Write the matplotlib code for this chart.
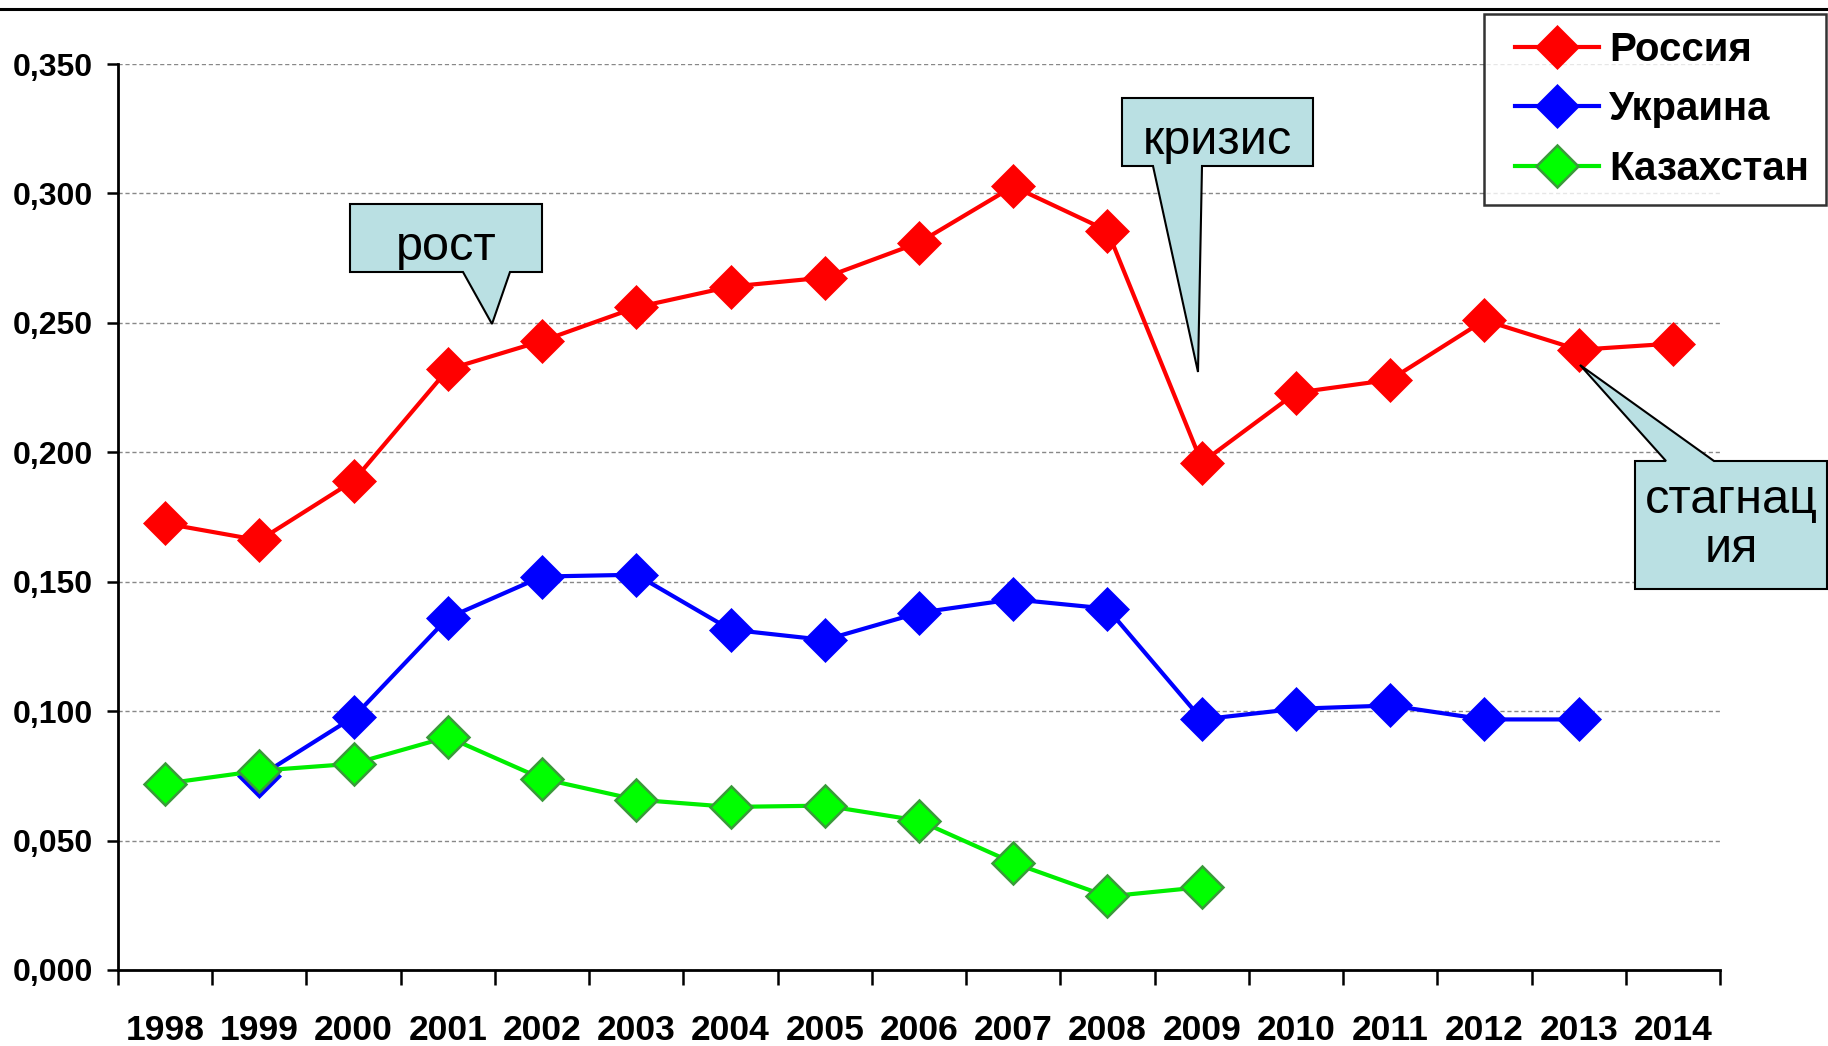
import matplotlib
matplotlib.use("Agg")
import matplotlib.pyplot as plt
from matplotlib.patches import Polygon
from matplotlib.lines import Line2D
from matplotlib.legend_handler import HandlerLine2D
import numpy as np

years = ["1998", "1999", "2000", "2001", "2002", "2003", "2004", "2005", "2006",
         "2007", "2008", "2009", "2010", "2011", "2012", "2013", "2014"]
russia = [0.1725, 0.166, 0.189, 0.232, 0.243, 0.256, 0.264, 0.2675, 0.281,
          0.3027, 0.2856, 0.196, 0.223, 0.228, 0.251, 0.2396, 0.242]
ukraine = [None, 0.0748, 0.0977, 0.136, 0.152, 0.1527, 0.1315, 0.1275, 0.138,
           0.1432, 0.1396, 0.0968, 0.1009, 0.1022, 0.0968, 0.0968, None]
kazakhstan = [0.072, 0.077, 0.0797, 0.090, 0.0739, 0.0658, 0.063, 0.0635, 0.0577,
              0.0414, 0.0284, 0.032, None, None, None, None, None]
series_names = ["Россия", "Украина", "Казахстан"]
y_ticks = [0.0, 0.05, 0.10, 0.15, 0.20, 0.25, 0.30, 0.35]
callout_texts = ["рост", "кризис", "стагнац\nия"]

plt.rcParams['font.family'] = ['Liberation Sans', 'DejaVu Sans']

W, H = 1828, 1046
fig = plt.figure(figsize=(W / 100, H / 100), dpi=100)
ax = fig.add_axes([118 / W, 1 - 970 / H, (1720 - 118) / W, (970 - 64) / H])

x = np.arange(len(years))

def arr(v):
    return np.array([np.nan if a is None else a for a in v], dtype=float)

l1, = ax.plot(x, arr(russia), color="#FF0000", lw=3.0, marker="D", ms=22,
              mfc="#FF0000", mec="#FF0000", mew=0.5, label=series_names[0], zorder=4)
l2, = ax.plot(x, arr(ukraine), color="#0000FF", lw=3.0, marker="D", ms=22,
              mfc="#0000FF", mec="#0000FF", mew=0.5, label=series_names[1], zorder=3)
l3, = ax.plot(x, arr(kazakhstan), color="#00EE00", lw=3.0, marker="D", ms=21,
              mfc="#00FF00", mec="#3A9A3A", mew=1.8, label=series_names[2], zorder=5)

ax.set_xlim(-0.5, len(years) - 0.5)
ax.set_ylim(0, 0.35)
ax.set_yticks(y_ticks)
ax.set_yticklabels([f"{v:.3f}".replace(".", ",") for v in y_ticks],
                   fontsize=23, fontweight="bold")
ax.set_xticks(x)
ax.set_xticklabels(years, fontsize=25.5, fontweight="bold")
ax.set_xticks(np.arange(len(years) + 1) - 0.5, minor=True)
ax.tick_params(axis="x", which="major", length=0, pad=32)
ax.tick_params(axis="x", which="minor", length=11, width=1.8, direction="out")
ax.tick_params(axis="y", which="major", length=8, width=1.8, pad=10)

ax.grid(axis="y", color="#888888", linestyle=(0, (3, 2)), lw=1.0)
ax.set_axisbelow(True)
for s in ["top", "right"]:
    ax.spines[s].set_visible(False)
for s in ["left", "bottom"]:
    ax.spines[s].set_linewidth(2.0)

hmap = {h: HandlerLine2D(xpad=0.33) for h in (l1, l2, l3)}
leg = ax.legend(loc="upper right", bbox_to_anchor=(1826 / W, 1 - 14 / H),
                bbox_transform=fig.transFigure, borderaxespad=0,
                prop={"size": 29, "weight": "bold"}, frameon=True, fancybox=False,
                edgecolor="black", handlelength=2.43, handletextpad=0.25,
                labelspacing=0.53, borderpad=0.42, markerscale=1.0,
                handler_map=hmap)
leg.get_frame().set_linewidth(1.8)

# top border line of the chart area
fig.add_artist(Line2D([0, 1], [1 - 9 / H, 1 - 9 / H], transform=fig.transFigure,
                      color="black", lw=2.2))

def px(pts):
    return [(a / W, 1 - b / H) for a, b in pts]

fill = "#BAE0E3"
callouts = [
    ([(350, 204), (542, 204), (542, 272), (510, 272), (492, 324), (463, 272), (350, 272)],
     (446, 247)),
    ([(1122, 98), (1313, 98), (1313, 166), (1202, 166), (1198, 372), (1153, 166), (1122, 166)],
     (1217, 141)),
    ([(1635, 461), (1666, 461), (1580, 365), (1714, 461), (1827, 461), (1827, 589), (1635, 589)],
     (1731, 525)),
]
for (poly, (tx, ty)), txt in zip(callouts, callout_texts):
    fig.add_artist(Polygon(px(poly), closed=True, transform=fig.transFigure,
                           facecolor=fill, edgecolor="black", lw=1.5, zorder=10))
    fig.text(tx / W, 1 - ty / H, txt, ha="center", va="center", fontsize=35,
             linespacing=1.12, zorder=11)

fig.savefig("out.png", dpi=100)
